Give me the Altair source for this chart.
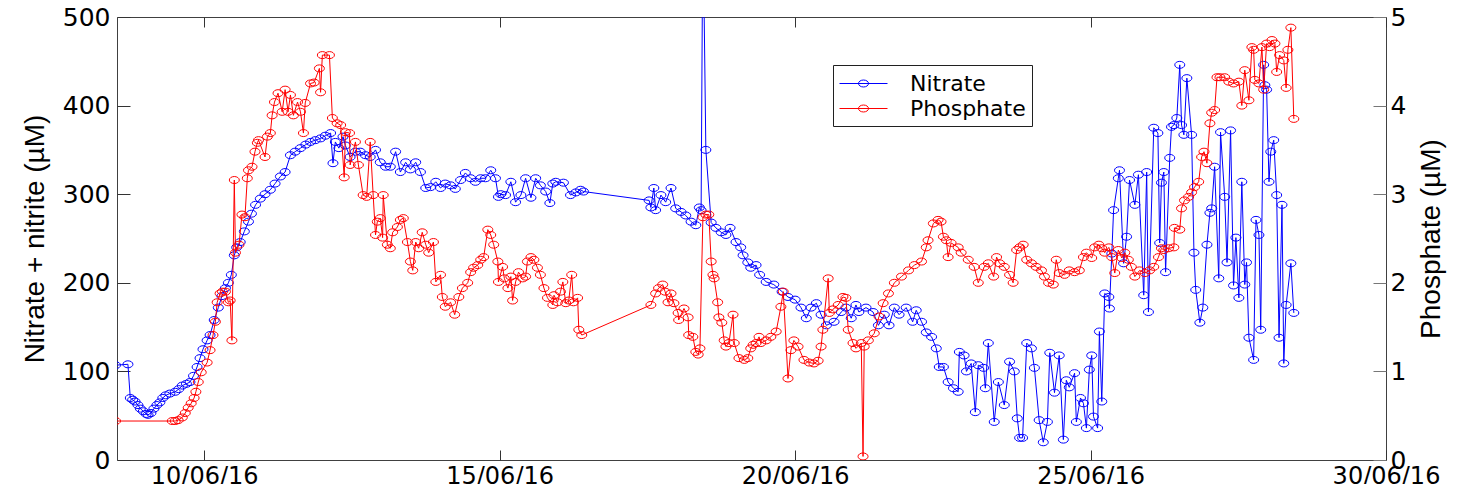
import altair as alt
import pandas as pd

# ---- data ----
# time as day of June 2016 (fractional), values in uM
nitrate_day = [
    8.50, 8.71, 8.75, 8.79, 8.83, 8.88, 8.92, 8.97, 9.02, 9.05, 9.10, 9.15, 9.20, 9.25, 9.30,
    9.35, 9.42, 9.51, 9.57, 9.63, 9.70, 9.76, 9.82, 9.88, 9.93, 9.98, 10.05, 10.10, 10.17, 10.24,
    10.30, 10.36, 10.41, 10.46, 10.51, 10.55, 10.61, 10.68, 10.75, 10.80, 10.87, 10.95, 11.03, 11.12, 11.20,
    11.29, 11.37, 11.46, 11.54, 11.63, 11.72, 11.80, 11.88, 11.97, 12.05, 12.14, 12.18, 12.22, 12.28, 12.35,
    12.39, 12.47, 12.56, 12.64, 12.73, 12.81, 12.90, 12.98, 13.07, 13.15, 13.24, 13.32, 13.41, 13.49, 13.58,
    13.66, 13.75, 13.83, 13.92, 14.00, 14.08, 14.17, 14.25, 14.34, 14.42, 14.51, 14.59, 14.68, 14.76, 14.85,
    14.93, 14.98, 15.02, 15.10, 15.19, 15.27, 15.36, 15.44, 15.53, 15.61, 15.69, 15.78, 15.85, 15.90, 15.95,
    16.08, 16.20, 16.29, 16.37, 16.42,
    17.53, 17.56, 17.61, 17.64, 17.73, 17.81, 17.90, 17.98, 18.07, 18.15, 18.24, 18.32, 18.38, 18.41, 18.44,
    18.49, 18.58, 18.66, 18.75, 18.83, 18.90, 19.00, 19.08, 19.12, 19.20, 19.25, 19.34, 19.40, 19.51, 19.64,
    19.78, 19.88, 20.00, 20.10, 20.19, 20.27, 20.36, 20.44, 20.53, 20.66, 20.78, 20.86, 20.95, 21.03, 21.08,
    21.20, 21.32, 21.41, 21.51, 21.59, 21.68, 21.76, 21.88, 21.99, 22.05, 22.14, 22.22, 22.31, 22.39, 22.44,
    22.51, 22.59, 22.68, 22.76, 22.78, 22.86, 22.90, 22.98, 23.05, 23.10, 23.19, 23.22, 23.27, 23.37, 23.44,
    23.54, 23.63, 23.71, 23.76, 23.80, 23.85, 23.92, 24.00, 24.05, 24.13, 24.20, 24.27, 24.31, 24.39, 24.47,
    24.54, 24.59, 24.64, 24.73, 24.76, 24.83, 24.88, 24.93, 24.98, 25.02, 25.05, 25.12, 25.15, 25.19, 25.24,
    25.31, 25.32, 25.36, 25.39, 25.47, 25.49, 25.56, 25.61, 25.66, 25.75, 25.81, 25.90, 25.95, 25.98, 26.07,
    26.14, 26.17, 26.20, 26.24, 26.27, 26.34, 26.37, 26.41, 26.46, 26.51, 26.54, 26.58, 26.63, 26.71, 26.75,
    26.78, 26.85, 26.90, 26.97, 27.02, 27.05, 27.10, 27.17, 27.20, 27.27, 27.31, 27.37, 27.42, 27.46, 27.51,
    27.56, 27.61, 27.64, 27.68, 27.76, 27.80, 27.85, 27.88, 27.93, 27.95, 27.98, 28.02, 28.05, 28.10, 28.15,
    28.19, 28.24, 28.27, 28.31, 28.39, 28.44,
]
nitrate_val = [
    107, 108, 70, 68, 66, 62, 58, 55, 52, 51, 53, 58, 62, 65, 70,
    73, 75, 77, 80, 84, 86, 88, 95, 105, 115, 125, 135, 141, 158, 172,
    185, 194, 200, 209, 231, 240, 246, 258, 269, 278, 288, 295, 300, 305, 312,
    320, 325, 344, 348, 352, 356, 359, 361, 363, 366, 369, 335, 359, 352, 365,
    355, 342, 348, 348, 344, 342, 350, 336, 331, 331, 348, 325, 336, 328, 336,
    325, 307, 308, 314, 307, 312, 310, 306, 316, 324, 318, 314, 318, 318, 327,
    318, 297, 300, 299, 314, 291, 299, 318, 296, 318, 310, 303, 290, 312, 314,
    313, 299, 302, 305, 303,
    293, 285, 307, 282, 299, 291, 307, 284, 280, 276, 269, 265, 285, 282, 620,
    350, 268, 262, 257, 254, 262, 246, 240, 231, 223, 217, 220, 209, 201, 198,
    190, 184, 181, 172, 160, 172, 177, 164, 152, 156, 167, 172, 160, 175, 167,
    172, 167, 152, 164, 152, 172, 164, 172, 156, 169, 156, 144, 139, 126, 105,
    105, 88, 81, 77, 122, 118, 100, 109, 54, 107, 104, 81, 132, 43, 88,
    62, 111, 100, 47, 25, 25, 132, 126, 104, 45, 20, 43, 121, 76, 118,
    23, 90, 82, 98, 43, 70, 64, 36, 102, 118, 49, 36, 145, 66, 188,
    184, 171, 233, 282, 318, 327, 222, 252, 316, 288, 322, 186, 325, 167, 375,
    369, 245, 313, 325, 212, 341, 376, 378, 386, 446, 378, 367, 431, 367, 234,
    192, 155, 172, 243, 279, 284, 331, 205, 370, 297, 223, 372, 197, 251, 183,
    314, 198, 223, 138, 113, 271, 254, 147, 446, 423, 418, 314, 348, 361, 299,
    138, 288, 109, 175, 222, 166,
]

phosphate_day = [
    8.50, 9.46, 9.51, 9.56, 9.63, 9.68, 9.73, 9.78, 9.83, 9.86, 9.90, 9.95, 10.05, 10.10, 10.15,
    10.19, 10.22, 10.27, 10.31, 10.36, 10.41, 10.44, 10.47, 10.51, 10.53, 10.59, 10.64, 10.69, 10.73, 10.75,
    10.81, 10.86, 10.90, 10.92, 11.03, 11.07, 11.12, 11.15, 11.19, 11.25, 11.32, 11.37, 11.42, 11.46, 11.51,
    11.58, 11.63, 11.68, 11.71, 11.80, 11.86, 11.95, 11.97, 12.00, 12.12, 12.17, 12.25, 12.31, 12.37, 12.39,
    12.46, 12.47, 12.56, 12.61, 12.69, 12.75, 12.81, 12.86, 12.90, 12.93, 12.98, 13.02, 13.03, 13.10, 13.15,
    13.19, 13.27, 13.32, 13.37, 13.44, 13.49, 13.53, 13.58, 13.63, 13.69, 13.75, 13.80, 13.88, 13.92, 14.00,
    14.03, 14.08, 14.17, 14.24, 14.31, 14.37, 14.46, 14.51, 14.56, 14.63, 14.68, 14.73, 14.80, 14.85, 14.90,
    14.97, 14.98, 15.05, 15.08, 15.14, 15.19, 15.22, 15.27, 15.32, 15.39, 15.44, 15.47, 15.53, 15.58, 15.64,
    15.69, 15.75, 15.81, 15.90, 15.92, 15.98, 16.03, 16.07, 16.12, 16.17, 16.22, 16.25, 16.32, 16.34, 16.39,
    17.56, 17.64, 17.69, 17.76, 17.80, 17.85, 17.90, 17.95, 18.02, 18.03, 18.12, 18.19, 18.20, 18.27, 18.32,
    18.36, 18.39, 18.44, 18.49, 18.54, 18.58, 18.61, 18.63, 18.69, 18.71, 18.76, 18.80, 18.83, 18.88, 18.95,
    18.97, 19.05, 19.14, 19.20, 19.25, 19.29, 19.34, 19.39, 19.42, 19.51, 19.59, 19.68, 19.76, 19.80, 19.88,
    19.93, 19.98, 20.05, 20.15, 20.24, 20.32, 20.39, 20.44, 20.47, 20.56, 20.58, 20.64, 20.73, 20.81, 20.86,
    20.90, 20.98, 21.03, 21.12, 21.15, 21.17, 21.24, 21.34, 21.42, 21.49, 21.58, 21.68, 21.80, 21.92, 22.02,
    22.14, 22.22, 22.25, 22.34, 22.42, 22.47, 22.51, 22.56, 22.59, 22.64, 22.76, 22.81, 22.93, 23.03, 23.10,
    23.20, 23.27, 23.36, 23.41, 23.46, 23.54, 23.63, 23.69, 23.75, 23.80, 23.86, 23.92, 24.00, 24.08, 24.17,
    24.22, 24.29, 24.37, 24.42, 24.47, 24.56, 24.64, 24.73, 24.81, 24.88, 24.93, 25.02, 25.07, 25.14, 25.19,
    25.24, 25.31, 25.36, 25.41, 25.47, 25.53, 25.58, 25.64, 25.69, 25.75, 25.83, 25.92, 26.00, 26.07, 26.15,
    26.20, 26.24, 26.32, 26.41, 26.42, 26.51, 26.54, 26.59, 26.66, 26.71, 26.76, 26.83, 26.88, 26.92, 26.97,
    27.02, 27.05, 27.10, 27.14, 27.19, 27.27, 27.34, 27.42, 27.51, 27.56, 27.61, 27.68, 27.73, 27.76, 27.78,
    27.85, 27.90, 27.93, 27.98, 28.03, 28.07, 28.12, 28.15, 28.20, 28.27, 28.31, 28.34, 28.39, 28.44,
]
phosphate_val = [
    0.44, 0.44, 0.44, 0.45, 0.48, 0.53, 0.59, 0.64, 0.70, 0.77, 0.88, 0.99, 1.10, 1.24, 1.41,
    1.56, 1.78, 1.88, 1.90, 1.90, 1.78, 1.80, 1.35, 3.16, 2.34, 2.43, 2.77, 2.74, 3.18, 3.27,
    3.31, 3.48, 3.58, 3.61, 3.42, 3.65, 3.69, 3.89, 4.04, 4.14, 3.93, 4.18, 3.93, 4.12, 3.89,
    4.04, 3.93, 3.69, 4.03, 4.25, 4.26, 4.42, 4.15, 4.57, 4.57, 3.86, 3.80, 3.78, 3.19, 3.70,
    3.69, 3.33, 3.59, 3.33, 2.99, 2.97, 3.59, 2.99, 2.54, 2.69, 2.73, 2.51, 2.99, 2.43, 2.39,
    2.57, 2.63, 2.71, 2.73, 2.46, 2.24, 2.14, 2.46, 2.39, 2.57, 2.43, 2.34, 2.46, 2.01, 2.09,
    1.84, 1.73, 1.78, 1.64, 1.84, 1.94, 2.00, 2.12, 2.17, 2.20, 2.26, 2.29, 2.60, 2.54, 2.43,
    2.24, 2.01, 2.18, 2.05, 1.94, 2.07, 1.80, 2.01, 2.12, 2.05, 2.07, 2.24, 2.29, 2.26, 2.17,
    2.09, 1.94, 1.83, 1.75, 1.86, 1.78, 1.90, 2.01, 1.77, 1.80, 2.09, 1.78, 1.83, 1.47, 1.41,
    1.75, 1.88, 1.94, 1.98, 1.90, 1.78, 1.88, 1.77, 1.66, 1.58, 1.71, 1.61, 1.41, 1.39, 1.22,
    1.19, 1.26, 2.74, 2.77, 2.77, 2.24, 2.09, 2.05, 1.78, 1.61, 1.55, 1.35, 1.28, 1.32, 1.64,
    1.32, 1.15, 1.13, 1.15, 1.26, 1.30, 1.32, 1.39, 1.32, 1.35, 1.39, 1.45, 1.73, 1.90, 0.92,
    1.24, 1.35, 1.28, 1.13, 1.10, 1.09, 1.12, 1.28, 1.47, 2.05, 1.66, 1.70, 1.75, 1.84, 1.83,
    1.47, 1.32, 1.26, 1.32, 0.04, 1.28, 1.35, 1.43, 1.62, 1.77, 1.88, 2.00, 2.07, 2.14, 2.20,
    2.24, 2.40, 2.48, 2.67, 2.71, 2.69, 2.52, 2.48, 2.29, 2.45, 2.40, 2.34, 2.26, 2.18, 2.00,
    2.18, 2.22, 2.07, 2.29, 2.22, 2.18, 2.09, 2.00, 2.37, 2.40, 2.43, 2.26, 2.22, 2.18, 2.14,
    2.07, 2.00, 1.98, 2.26, 2.11, 2.09, 2.14, 2.12, 2.14, 2.29, 2.34, 2.28, 2.40, 2.43, 2.39,
    2.34, 2.40, 2.29, 2.11, 2.37, 2.28, 2.34, 2.26, 2.18, 2.07, 2.14, 2.11, 2.14, 2.18, 2.29,
    2.39, 2.37, 2.39, 2.40, 2.62, 2.60, 2.84, 2.93, 2.97, 3.02, 3.08, 3.14, 3.42, 3.48, 3.35,
    3.80, 3.92, 3.95, 4.32, 4.32, 4.32, 4.27, 4.25, 4.27, 4.00, 4.40, 4.06, 4.66, 4.63, 4.29,
    4.25, 4.66, 4.18, 4.70, 4.66, 4.74, 4.70, 4.38, 4.57, 4.51, 4.20, 4.63, 4.88, 3.85,
]

series_names = ["Nitrate", "Phosphate"]
series_colors = ["#0000ff", "#ff0000"]
x_ticks = [10, 15, 20, 25, 30]
nitrate_ticks = [0, 100, 200, 300, 400, 500]
phosphate_ticks = [0, 1, 2, 3, 4, 5]
x_domain = [8.525, 30]
nitrate_domain = [0, 500]
phosphate_domain = [0, 5]

nit = pd.DataFrame({"day": nitrate_day, "value": nitrate_val})
nit["series"] = "Nitrate"
pho = pd.DataFrame({"day": phosphate_day, "value": phosphate_val})
pho["series"] = "Phosphate"

MARKER = "M-1,0A1,0.7,0,1,0,1,0A1,0.7,0,1,0,-1,0Z"
LEG_SYM = "M-2,0L2,0M-0.42,0A0.42,0.29,0,1,0,0.42,0A0.42,0.29,0,1,0,-0.42,0Z"

TICK_FONT = "DejaVu Sans"
TITLE_FONT = "Liberation Sans"

legend = alt.Legend(
    title=None, orient="none", legendX=716, legendY=48, direction="vertical",
    symbolType=LEG_SYM, symbolSize=576, symbolStrokeWidth=1, symbolOffset=12,
    symbolFillColor="transparent",
    labelFont=TICK_FONT, labelFontSize=22, labelColor="black", labelOffset=34,
    rowPadding=1, padding=6, strokeColor="#202020", fillColor="white", cornerRadius=0,
)

xscale = alt.Scale(domain=x_domain, nice=False, zero=False)
color = alt.Color(
    "series:N",
    scale=alt.Scale(domain=series_names, range=series_colors),
    legend=legend,
)

point_def = alt.OverlayMarkDef(shape=MARKER, size=100, filled=False,
                               strokeWidth=1, opacity=1, clip=True)

nit_chart = alt.Chart(nit).mark_line(clip=True, strokeWidth=1, point=point_def).encode(
    x=alt.X("day:Q", scale=xscale, axis=alt.Axis(
        orient="bottom", values=x_ticks, labelExpr="datum.value + '/06/16'",
        offset=-10, tickSize=10, tickColor="#333333", domain=False, grid=False, title=None,
        labelFont=TICK_FONT, labelFontSize=24, labelColor="black", labelPadding=4,
        labelFlush=False, labelOverlap=False)),
    y=alt.Y("value:Q", scale=alt.Scale(domain=nitrate_domain, nice=False, zero=False), axis=alt.Axis(
        orient="left", values=nitrate_ticks, offset=-13, tickSize=13, tickColor="#333333",
        domain=False, grid=False, labelFont=TICK_FONT, labelFontSize=25, labelColor="black",
        labelPadding=7, labelFlush=False, labelOverlap=False,
        title="Nitrate + nitrite (\u00b5M)", titleFont=TITLE_FONT, titleFontSize=28,
        titleFontWeight="normal", titleColor="black", titlePadding=13)),
    color=color,
)

pho_chart = alt.Chart(pho).mark_line(clip=True, strokeWidth=1, point=point_def).encode(
    x=alt.X("day:Q", scale=xscale, axis=alt.Axis(
        orient="top", values=x_ticks, offset=-10, tickSize=10, tickColor="#333333",
        domain=False, grid=False, labels=False, title=None)),
    y=alt.Y("value:Q", scale=alt.Scale(domain=phosphate_domain, nice=False, zero=False), axis=alt.Axis(
        orient="right", values=phosphate_ticks, offset=-13, tickSize=13, tickColor="#777777",
        domain=False, grid=False, labelFont=TICK_FONT, labelFontSize=25, labelColor="black",
        labelPadding=4, labelFlush=False, labelOverlap=False,
        title="Phosphate (\u00b5M)", titleFont=TITLE_FONT, titleFontSize=28,
        titleFontWeight="normal", titleColor="black", titleAngle=270, titleBaseline="top",
        titlePadding=12)),
    color=color,
)

chart = (
    alt.layer(nit_chart, pho_chart)
    .resolve_scale(y="independent")
    .resolve_axis(x="independent", y="independent")
    .properties(
        width=1269, height=443,
        autosize=alt.AutoSizeParams(type="none"),
        padding={"left": 109, "top": 9, "right": 79, "bottom": 24},
        background="white",
    )
    .configure_view(stroke="#404040", strokeWidth=1)
)

chart.save("out.html", embed_options={"renderer": "svg", "actions": False})
